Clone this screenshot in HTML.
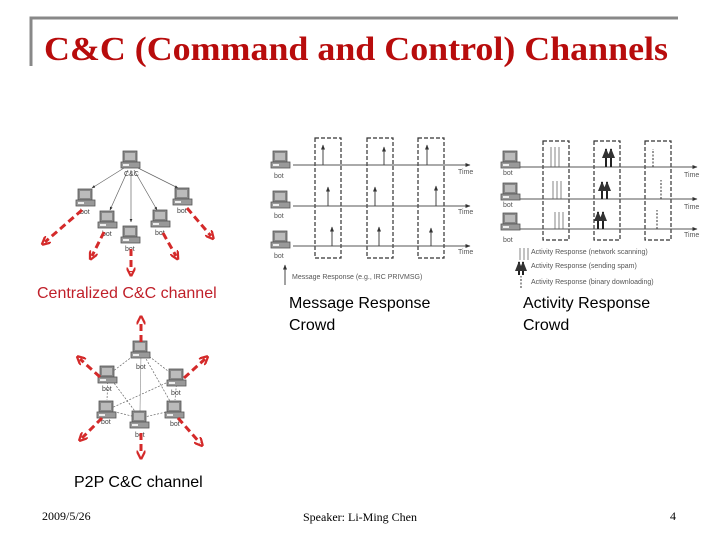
<!DOCTYPE html>
<html><head><style>
body{margin:0;width:720px;height:540px;background:#fff;overflow:hidden;position:relative;font-family:"Liberation Sans",sans-serif}
.t{position:absolute;white-space:nowrap}
</style></head><body>
<svg width="720" height="540" style="position:absolute;left:0;top:0" font-family="Liberation Sans, sans-serif">
<defs>
<g id="pc"><rect x="-8" y="-9" width="14" height="11" fill="#888" stroke="#555" stroke-width="0.8"/><rect x="-6" y="-7" width="10" height="7" fill="#bbb"/><rect x="-10" y="2" width="19" height="6" fill="#999" stroke="#555" stroke-width="0.8"/><rect x="-8" y="4" width="6" height="2" fill="#eee"/></g>
<marker id="ra" viewBox="0 0 10 10" refX="5" refY="5" markerWidth="3" markerHeight="3" orient="auto"><path d="M0,0 L10,5 L0,10" fill="none" stroke="#d42a2a" stroke-width="2.5"/></marker>
<marker id="ka" viewBox="0 0 10 10" refX="9" refY="5" markerWidth="5" markerHeight="5" orient="auto"><path d="M0,1 L10,5 L0,9z" fill="#333"/></marker>
</defs>
<path d="M31,66 V18 H678" fill="none" stroke="#888" stroke-width="3"/>
<text x="44" y="60" font-family="Liberation Serif, serif" font-weight="bold" font-size="34" fill="#b80c0c" textLength="624" lengthAdjust="spacingAndGlyphs">C&amp;C (Command and Control) Channels</text>

<g stroke="#666" stroke-width="0.7" marker-end="url(#ka)">
<line x1="124" y1="168" x2="92" y2="188"/><line x1="128" y1="170" x2="110" y2="210"/><line x1="131" y1="170" x2="131" y2="222"/><line x1="134" y1="170" x2="157" y2="210"/><line x1="138" y1="168" x2="178" y2="188"/>
</g>
<use href="#pc" x="131" y="160"/><use href="#pc" x="86" y="198"/><use href="#pc" x="108" y="220"/><use href="#pc" x="131" y="235"/><use href="#pc" x="161" y="219"/><use href="#pc" x="183" y="197"/>
<g font-size="7" fill="#444"><text x="124" y="176">C&amp;C</text><text x="80" y="214">bot</text><text x="102" y="236">bot</text><text x="125" y="251">bot</text><text x="155" y="235">bot</text><text x="177" y="213">bot</text></g>
<g stroke="#d42a2a" stroke-width="3" stroke-dasharray="7,4" marker-end="url(#ra)" fill="none">
<line x1="82" y1="210" x2="45" y2="242"/><line x1="104" y1="232" x2="92" y2="256"/><line x1="131" y1="249" x2="131" y2="272"/><line x1="163" y1="233" x2="176" y2="256"/><line x1="187" y1="208" x2="211" y2="236"/>
</g>

<g fill="none" stroke="#333" stroke-width="1.2" stroke-dasharray="4,2"><rect x="315" y="138" width="26" height="120"/><rect x="367" y="138" width="26" height="120"/><rect x="418" y="138" width="26" height="120"/></g>
<g stroke="#555" stroke-width="1" marker-end="url(#ka)"><line x1="293" y1="165" x2="470" y2="165"/><line x1="293" y1="206" x2="470" y2="206"/><line x1="293" y1="246" x2="470" y2="246"/></g>
<g stroke="#444" stroke-width="1" marker-end="url(#ka)">
<line x1="323" y1="165" x2="323" y2="145"/><line x1="384" y1="165" x2="384" y2="147"/><line x1="427" y1="165" x2="427" y2="145"/>
<line x1="328" y1="206" x2="328" y2="187"/><line x1="375" y1="206" x2="375" y2="187"/><line x1="436" y1="206" x2="436" y2="186"/>
<line x1="332" y1="246" x2="332" y2="227"/><line x1="379" y1="246" x2="379" y2="227"/><line x1="431" y1="246" x2="431" y2="228"/>
<line x1="285" y1="285" x2="285" y2="265"/></g>
<use href="#pc" x="281" y="160"/><use href="#pc" x="281" y="200"/><use href="#pc" x="281" y="240"/>
<g font-size="7" fill="#555"><text x="274" y="178">bot</text><text x="274" y="218">bot</text><text x="274" y="258">bot</text><text x="458" y="174">Time</text><text x="458" y="214">Time</text><text x="458" y="254">Time</text><text x="292" y="279">Message Response (e.g., IRC PRIVMSG)</text></g>

<g fill="none" stroke="#333" stroke-width="1.2" stroke-dasharray="4,2"><rect x="543" y="141" width="26" height="99"/><rect x="594" y="141" width="26" height="99"/><rect x="645" y="141" width="26" height="99"/></g>
<g stroke="#555" stroke-width="1" marker-end="url(#ka)"><line x1="520" y1="167" x2="697" y2="167"/><line x1="520" y1="199" x2="697" y2="199"/><line x1="520" y1="229" x2="697" y2="229"/></g>
<g stroke="#666" stroke-width="0.8"><line x1="551" y1="167" x2="551" y2="147"/><line x1="555" y1="167" x2="555" y2="147"/><line x1="559" y1="167" x2="559" y2="147"/><line x1="553" y1="199" x2="553" y2="181"/><line x1="557" y1="199" x2="557" y2="181"/><line x1="561" y1="199" x2="561" y2="181"/><line x1="555" y1="229" x2="555" y2="212"/><line x1="559" y1="229" x2="559" y2="212"/><line x1="563" y1="229" x2="563" y2="212"/>
<line x1="520" y1="260" x2="520" y2="248"/><line x1="524" y1="260" x2="524" y2="248"/><line x1="528" y1="260" x2="528" y2="248"/></g>
<g stroke="#222" stroke-width="2" marker-end="url(#ka)"><line x1="606" y1="167" x2="606" y2="149"/><line x1="611" y1="167" x2="611" y2="149"/><line x1="602" y1="199" x2="602" y2="182"/><line x1="607" y1="199" x2="607" y2="182"/><line x1="598" y1="229" x2="598" y2="212"/><line x1="603" y1="229" x2="603" y2="212"/><line x1="519" y1="275" x2="519" y2="262"/><line x1="523" y1="275" x2="523" y2="262"/></g>
<g stroke="#333" stroke-width="1" stroke-dasharray="2,1.5"><line x1="653" y1="167" x2="653" y2="149"/><line x1="661" y1="199" x2="661" y2="180"/><line x1="657" y1="229" x2="657" y2="210"/><line x1="521" y1="288" x2="521" y2="276"/></g>
<use href="#pc" x="511" y="160"/><use href="#pc" x="511" y="192"/><use href="#pc" x="511" y="222"/>
<g font-size="7" fill="#555"><text x="503" y="175">bot</text><text x="503" y="207">bot</text><text x="503" y="242">bot</text><text x="684" y="177">Time</text><text x="684" y="209">Time</text><text x="684" y="237">Time</text>
<text x="531" y="254">Activity Response (network scanning)</text><text x="531" y="268">Activity Response (sending spam)</text><text x="531" y="284">Activity Response (binary downloading)</text></g>

<g stroke="#666" stroke-width="0.7" stroke-dasharray="2,1.5"><line x1="141" y1="350" x2="108" y2="375"/><line x1="141" y1="350" x2="177" y2="378"/><line x1="108" y1="375" x2="140" y2="418"/><line x1="141" y1="350" x2="175" y2="410"/><line x1="107" y1="410" x2="177" y2="378"/><line x1="107" y1="410" x2="140" y2="418"/><line x1="140" y1="418" x2="175" y2="410"/><line x1="108" y1="375" x2="107" y2="400"/><line x1="177" y1="378" x2="175" y2="400"/></g>
<line x1="141" y1="352" x2="140" y2="412" stroke="#999" stroke-width="0.7"/>
<use href="#pc" x="141" y="350"/><use href="#pc" x="108" y="375"/><use href="#pc" x="177" y="378"/><use href="#pc" x="107" y="410"/><use href="#pc" x="175" y="410"/><use href="#pc" x="140" y="420"/>
<g font-size="7" fill="#444"><text x="136" y="369">bot</text><text x="102" y="391">bot</text><text x="171" y="395">bot</text><text x="101" y="424">bot</text><text x="170" y="426">bot</text><text x="135" y="437">bot</text></g>
<g stroke="#d42a2a" stroke-width="3" stroke-dasharray="7,4" marker-end="url(#ra)" fill="none">
<line x1="141" y1="342" x2="141" y2="320"/><line x1="100" y1="377" x2="80" y2="359"/><line x1="184" y1="378" x2="205" y2="359"/><line x1="102" y1="418" x2="82" y2="438"/><line x1="178" y1="418" x2="200" y2="443"/><line x1="141" y1="433" x2="141" y2="455"/>
</g>
</svg>
<div class="t" style="left:37px;top:285px;font-size:16px;color:#c0202a">Centralized C&amp;C channel</div>
<div class="t" style="left:289px;top:293px;font-size:16px;line-height:22px">Message Response<br>Crowd</div>
<div class="t" style="left:523px;top:293px;font-size:16px;line-height:22px">Activity Response<br>Crowd</div>
<div class="t" style="left:74px;top:474px;font-size:16px">P2P C&amp;C channel</div>
<div class="t" style="left:42px;top:509px;font-size:12px;font-family:'Liberation Serif',serif">2009/5/26</div>
<div class="t" style="left:303px;top:510px;font-size:12px;font-family:'Liberation Serif',serif">Speaker: Li-Ming Chen</div>
<div class="t" style="left:670px;top:509px;font-size:12px;font-family:'Liberation Serif',serif">4</div>
</body></html>
